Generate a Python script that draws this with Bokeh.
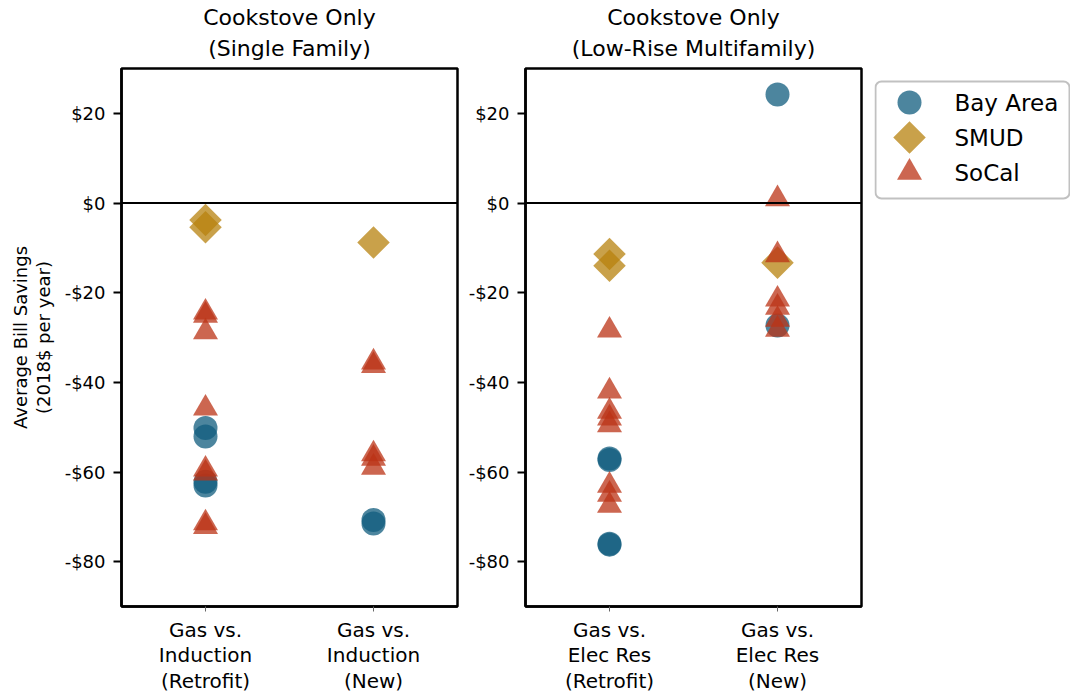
from math import pi
from bokeh.plotting import figure
from bokeh.models import Range1d, FixedTicker, Span, Title, BoxAnnotation
from bokeh.layouts import row
from bokeh.embed import file_html
from bokeh.resources import INLINE
from bokeh.core.properties import value

# ---------------- data ----------------
series = ["Bay Area", "SMUD", "SoCal"]
series_colors = ["#105c7d", "#b7820e", "#bb3316"]

panel_titles = ["Cookstove Only\n(Single Family)", "Cookstove Only\n(Low-Rise Multifamily)"]
sf_categories = ["Gas vs.\nInduction\n(Retrofit)", "Gas vs.\nInduction\n(New)"]
mf_categories = ["Gas vs.\nElec Res\n(Retrofit)", "Gas vs.\nElec Res\n(New)"]

y_ticks = [-80, -60, -40, -20, 0, 20]
y_tick_labels = ["-$80", "-$60", "-$40", "-$20", "$0", "$20"]
y_label = "Average Bill Savings\n(2018$ per year)"

# Single family (retrofit, new)
sf_bay_retrofit = [-50.2, -52.1, -62.2, -63.0]
sf_smud_retrofit = [-3.8, -5.4]
sf_socal_retrofit = [-24.4, -25.1, -28.8, -45.8, -59.4, -60.3, -71.4, -72.2]
sf_bay_new = [-70.7, -71.5]
sf_smud_new = [-8.8]
sf_socal_new = [-35.5, -36.3, -56.0, -57.0, -59.0]

# Low-rise multifamily (retrofit, new)
mf_bay_retrofit = [-57.0, -57.3, -76.0, -76.2]
mf_smud_retrofit = [-11.4, -14.0]
mf_socal_retrofit = [-28.4, -42.0, -46.5, -48.0, -49.5, -63.0, -65.0, -67.5]
mf_bay_new = [24.2, -27.3]
mf_smud_new = [-13.3]
mf_socal_new = [0.9, -11.6, -21.5, -23.3, -26.0, -28.2]

sf_data = {
    "Bay Area": [sf_bay_retrofit, sf_bay_new],
    "SMUD": [sf_smud_retrofit, sf_smud_new],
    "SoCal": [sf_socal_retrofit, sf_socal_new],
}
mf_data = {
    "Bay Area": [mf_bay_retrofit, mf_bay_new],
    "SMUD": [mf_smud_retrofit, mf_smud_new],
    "SoCal": [mf_socal_retrofit, mf_socal_new],
}

# ---------------- styles ----------------
FONT = "DejaVu Sans"
ALPHA = 0.75
TOP = 68
marker_style = {
    "Bay Area": dict(marker="circle", size=24, angle=0.0),
    "SMUD": dict(marker="square", size=23, angle=pi / 4),
    "SoCal": dict(marker="triangle", size=25, angle=0.0),
}
title_standoffs = [15, -7]   # nearest-to-frame line first


def make_panel(title, categories, data, min_left, min_right, with_ylabel):
    p = figure(
        title=None,
        frame_width=336, frame_height=538,
        x_range=Range1d(-0.5, len(categories) - 0.5),
        y_range=Range1d(-90, 30),
        output_backend="svg", toolbar_location=None,
        min_border_left=min_left, min_border_right=min_right,
        min_border_top=TOP, min_border_bottom=86,
    )
    lines = title.split("\n")
    # the first title added sits closest to the frame
    for line, so in zip(reversed(lines), title_standoffs):
        p.add_layout(Title(text=line, align="center", text_font=FONT, text_font_size="22px",
                           text_font_style="normal", text_color="black",
                           standoff=so), "above")

    p.grid.visible = False
    p.outline_line_color = "black"
    p.outline_line_width = 2.5
    p.outline_line_alpha = 1.0
    p.background_fill_color = "white"
    p.border_fill_color = "white"

    p.add_layout(Span(location=0, dimension="width", line_color="black", line_width=2))

    for name, color in zip(series, series_colors):
        xs, ys = [], []
        for ci, vals in enumerate(data[name]):
            xs += [ci] * len(vals)
            ys += vals
        st = marker_style[name]
        p.scatter(x=xs, y=ys, marker=st["marker"], size=st["size"], angle=st["angle"],
                  fill_color=color, fill_alpha=ALPHA, line_color=None)

    xa = p.xaxis[0]
    xa.ticker = FixedTicker(ticks=list(range(len(categories))))
    xa.major_label_overrides = {i: c for i, c in enumerate(categories)}
    xa.major_label_text_font = FONT
    xa.major_label_text_font_size = "20px"
    xa.major_label_text_line_height = 1.07
    xa.major_label_text_color = "black"
    xa.major_label_standoff = 6
    xa.major_tick_out = 5
    xa.major_tick_in = 0
    xa.major_tick_line_color = "#666666"
    xa.major_tick_line_width = 1
    xa.minor_tick_line_color = None
    xa.axis_line_color = "black"
    xa.axis_line_width = 2.5

    ya = p.yaxis[0]
    ya.ticker = FixedTicker(ticks=y_ticks)
    ya.major_label_overrides = {t: l for t, l in zip(y_ticks, y_tick_labels)}
    ya.major_label_text_font = FONT
    ya.major_label_text_font_size = "18px"
    ya.major_label_text_color = "black"
    ya.major_label_standoff = 8
    ya.major_tick_out = 8
    ya.major_tick_in = 0
    ya.major_tick_line_color = "black"
    ya.major_tick_line_width = 2
    ya.minor_tick_line_color = None
    ya.axis_line_color = "black"
    ya.axis_line_width = 2.5
    if with_ylabel:
        ya.axis_label = y_label
        ya.axis_label_text_font = FONT
        ya.axis_label_text_font_size = "18px"
        ya.axis_label_text_line_height = 1.1
        ya.axis_label_text_font_style = "normal"
        ya.axis_label_text_color = "black"
        ya.axis_label_standoff = 8
    return p


p1 = make_panel(panel_titles[0], sf_categories, sf_data, 121, 8, True)
p2 = make_panel(panel_titles[1], mf_categories, mf_data, 58, 13, False)

# ---------------- legend panel (pixel-like coordinates, y grows downward) ----------------
LEG_W, LEG_H = 196, 140
p3 = figure(
    title=None,
    frame_width=LEG_W, frame_height=LEG_H,
    x_range=Range1d(0, LEG_W),
    y_range=Range1d(LEG_H, 0),
    x_axis_location=None, y_axis_location=None,
    output_backend="svg", toolbar_location=None,
    min_border_left=0, min_border_right=0, min_border_top=TOP, min_border_bottom=0,
)
p3.grid.visible = False
p3.outline_line_color = None
p3.background_fill_color = "white"
p3.border_fill_color = "white"
p3.add_layout(BoxAnnotation(left=1, right=LEG_W - 1, top=13, bottom=130,
                            fill_alpha=0, line_color="#333333", line_width=2,
                            border_radius=6))
row_top, row_gap = 34, 35
marker_x, label_x = 35, 80
rows_y = [row_top + i * row_gap for i in range(len(series))]
for name, color, yy in zip(series, series_colors, rows_y):
    st = marker_style[name]
    p3.scatter(x=[marker_x], y=[yy], marker=st["marker"], size=st["size"], angle=st["angle"],
               fill_color=color, fill_alpha=ALPHA, line_color=None)
p3.text(x=label_x, y=rows_y, text=series, text_baseline="middle", text_align="left",
        text_font=value(FONT), text_font_size="23px", text_color="black")

layout = row(p1, p2, p3)
open("out.html", "w").write(file_html(layout, INLINE))
